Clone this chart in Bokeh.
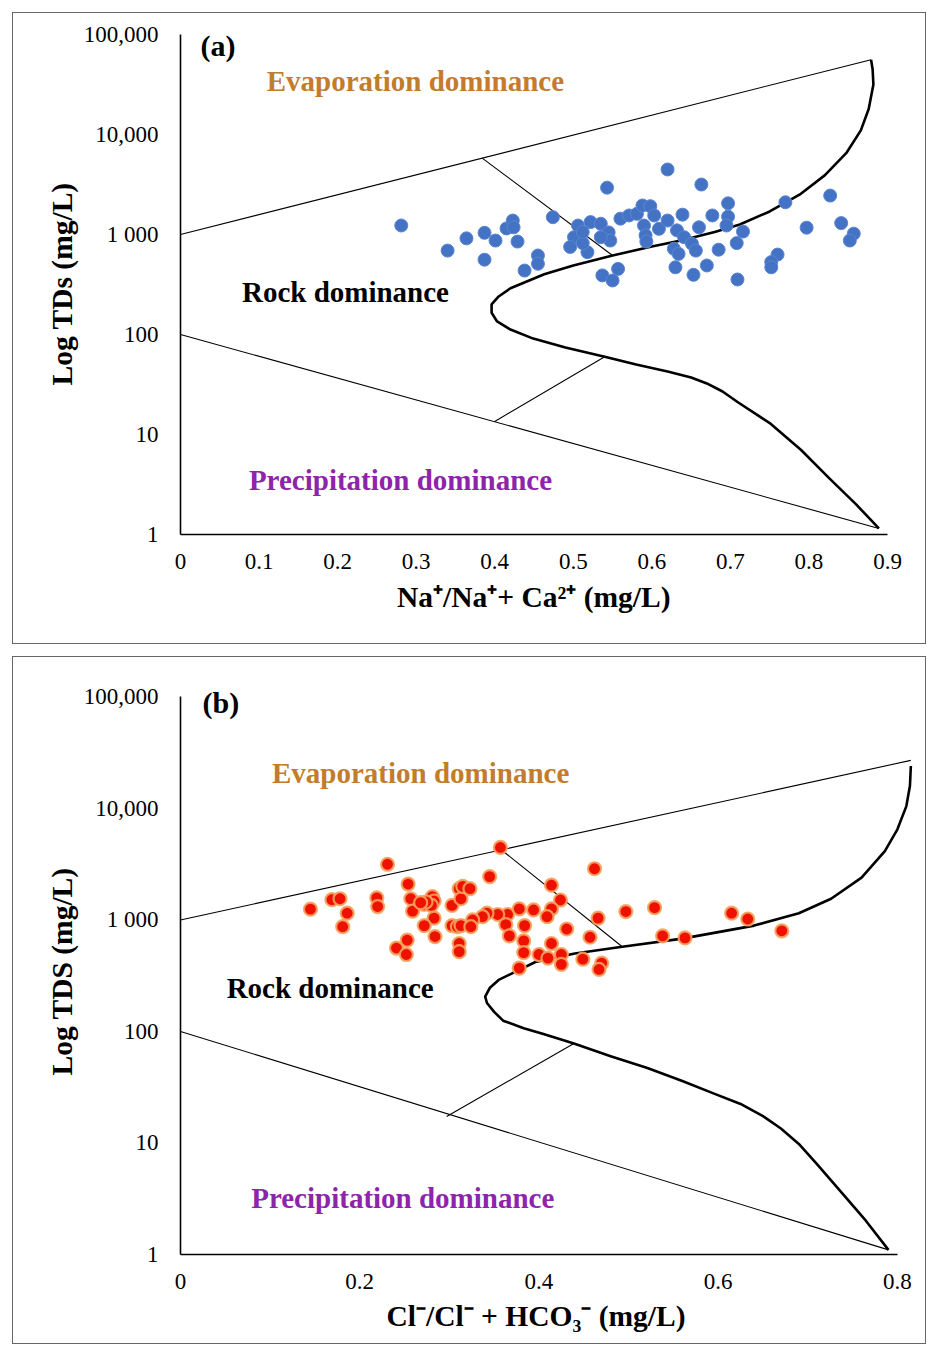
from bokeh.plotting import figure
from bokeh.models import FixedTicker, CustomJSTickFormatter, Label, Range1d, Spacer, Title
from bokeh.layouts import column, row
from bokeh.embed import file_html
from bokeh.resources import INLINE

SERIF = "Liberation Serif"

# ---------------- panel (a): Na+/(Na+ + Ca2+) against TDS ----------------
na_ratio = [0.281, 0.340, 0.364, 0.387, 0.401, 0.387, 0.415, 0.423, 0.424, 0.429,
            0.438, 0.455, 0.455, 0.474, 0.543, 0.620, 0.663, 0.506, 0.522, 0.535,
            0.545, 0.547, 0.501, 0.496, 0.518, 0.535, 0.537, 0.550, 0.557, 0.560,
            0.571, 0.581, 0.588, 0.598, 0.603, 0.590, 0.592, 0.593, 0.609, 0.620,
            0.639, 0.660, 0.632, 0.641, 0.651, 0.628, 0.634, 0.656, 0.630, 0.653,
            0.670, 0.697, 0.677, 0.697, 0.695, 0.716, 0.708, 0.685, 0.709, 0.770,
            0.827, 0.797, 0.841, 0.857, 0.852, 0.760, 0.752, 0.752, 0.512, 0.512]
tds_a = [1230, 690, 915, 1040, 870, 560, 1150, 1380, 1180, 850,
         436, 617, 510, 1490, 2940, 4470, 3160, 1230, 1330, 1280,
         1050, 870, 940, 750, 665, 940, 390, 347, 453, 1440,
         1550, 1610, 1950, 1920, 1550, 1230, 980, 850, 1140, 1380,
         1580, 1180, 1100, 940, 810, 720, 640, 690, 470, 395,
         490, 2050, 1550, 1510, 1230, 1070, 820, 705, 355, 2100,
         2450, 1170, 1300, 1020, 870, 630, 530, 470, 820, 1060]

# ---------------- panel (b): Cl-/(Cl- + HCO3-) against TDS ----------------
cl_ratio = [0.231, 0.145, 0.169, 0.178, 0.186, 0.181, 0.219, 0.220, 0.254, 0.257,
            0.259, 0.272, 0.281, 0.283, 0.280, 0.283, 0.272, 0.284, 0.303, 0.311,
            0.313, 0.303, 0.309, 0.311, 0.311, 0.241, 0.253, 0.252, 0.357, 0.345,
            0.315, 0.323, 0.462, 0.414, 0.424, 0.414, 0.409, 0.378, 0.394, 0.365,
            0.354, 0.342, 0.337, 0.326, 0.313, 0.324, 0.363, 0.384, 0.367, 0.383,
            0.383, 0.378, 0.400, 0.410, 0.414, 0.425, 0.425, 0.431, 0.449, 0.457,
            0.466, 0.470, 0.467, 0.497, 0.529, 0.538, 0.563, 0.615, 0.633, 0.671,
            0.274, 0.268]
tds_b = [3160, 1250, 1520, 1550, 1150, 870, 1580, 1320, 2100, 1550,
         1200, 1380, 1620, 1480, 1350, 1040, 890, 710, 1350, 1910,
         1550, 890, 870, 615, 520, 560, 660, 490, 4470, 2450,
         2000, 1910, 2880, 2050, 1510, 1260, 1070, 1260, 1230, 1120,
         1120, 1150, 1070, 1000, 890, 870, 910, 890, 720, 650,
         510, 370, 490, 455, 615, 490, 400, 830, 445, 700,
         1040, 410, 360, 1190, 1290, 720, 690, 1150, 1020, 800,
         1450, 1430]

# ---------------- Gibbs boundary lines ----------------
a_curve_x = [0.889, 0.860, 0.825, 0.790, 0.750, 0.710, 0.690, 0.670, 0.650, 0.620,
             0.580, 0.540, 0.490, 0.449, 0.420, 0.403, 0.396, 0.396, 0.405, 0.420,
             0.463, 0.500, 0.550, 0.600, 0.637, 0.680, 0.712, 0.750, 0.788, 0.820,
             0.848, 0.866, 0.876, 0.882, 0.881, 0.879]
a_curve_y = [1.15, 2.0, 3.7, 7.0, 13, 20.9, 26.9, 32.4, 37.2, 42.7,
             50.1, 60, 74, 91, 112, 135, 165, 200, 240, 290,
             400, 490, 617, 760, 870, 1060, 1260, 1700, 2500, 3900,
             6600, 11000, 18000, 31600, 45000, 56000]
a_upper_x, a_upper_y = [0, 0.879], [1000, 56000]
a_lower_x, a_lower_y = [0, 0.889], [100, 1.15]
a_tie_top_x, a_tie_top_y = [0.384, 0.550], [5800, 617]
a_tie_bot_x, a_tie_bot_y = [0.400, 0.540], [13.5, 60]

b_curve_x = [0.790, 0.765, 0.739, 0.710, 0.690, 0.670, 0.650, 0.625, 0.594, 0.560,
             0.521, 0.480, 0.439, 0.405, 0.383, 0.360, 0.350, 0.342, 0.340, 0.345,
             0.355, 0.396, 0.440, 0.493, 0.560, 0.640, 0.690, 0.726, 0.760, 0.786,
             0.800, 0.810, 0.814, 0.815]
b_curve_y = [1.1, 2.0, 3.5, 6.5, 9.8, 13.5, 17.4, 22.4, 28, 36,
             47, 60, 78, 95, 107, 125, 150, 180, 205, 245,
             290, 420, 500, 575, 680, 890, 1150, 1550, 2400, 4150,
             6500, 10500, 16000, 24000]
b_upper_x, b_upper_y = [0, 0.815], [1000, 27000]
b_lower_x, b_lower_y = [0, 0.790], [100, 1.1]
b_tie_top_x, b_tie_top_y = [0.358, 0.493], [4260, 575]
b_tie_bot_x, b_tie_bot_y = [0.297, 0.439], [17.3, 78]

# ---------------- tick labels ----------------
y_ticks = [1, 10, 100, 1000, 10000, 100000]
y_tick_labels = ["1", "10", "100", "1 000", "10,000", "100,000"]
a_x_ticks = [0, 0.1, 0.2, 0.3, 0.4, 0.5, 0.6, 0.7, 0.8, 0.9]
a_x_tick_labels = ["0", "0.1", "0.2", "0.3", "0.4", "0.5", "0.6", "0.7", "0.8", "0.9"]
b_x_ticks = [0, 0.2, 0.4, 0.6, 0.8]
b_x_tick_labels = ["0", "0.2", "0.4", "0.6", "0.8"]

EVAP = "#c27c2c"
PRECIP = "#8e24aa"
TITLE_SIZE = "29.5px"


def tick_formatter(vals, labels):
    return CustomJSTickFormatter(
        args=dict(vals=vals, labels=labels),
        code="const i = vals.findIndex(v => Math.abs(v - tick) < 1e-6 * Math.max(1, Math.abs(v)));"
             "return i >= 0 ? labels[i] : '';")


def axis_title(text, align, offset, standoff):
    return Title(text=text, align=align, offset=offset, standoff=standoff,
                 text_font=SERIF, text_font_size=TITLE_SIZE, text_font_style="bold",
                 text_color="black")


def panel(width, height, x_end, y_end, borders, x_ticks, x_labels, x_bounds,
          x_title, x_offset, x_standoff, y_title, y_offset):
    left, right, top, bottom = borders
    p = figure(width=width, height=height, x_range=Range1d(0, x_end),
               y_range=Range1d(1, y_end), y_axis_type="log",
               output_backend="svg", toolbar_location=None,
               min_border_left=left, min_border_right=right,
               min_border_top=top, min_border_bottom=bottom)
    p.xgrid.visible = False
    p.ygrid.visible = False
    p.outline_line_color = None
    p.background_fill_color = "white"
    p.border_fill_color = "white"
    p.styles = {"border": "1px solid #666666"}

    xa, ya = p.xaxis[0], p.yaxis[0]
    xa.ticker = FixedTicker(ticks=x_ticks)
    xa.formatter = tick_formatter(x_ticks, x_labels)
    xa.bounds = x_bounds
    ya.ticker = FixedTicker(ticks=y_ticks, minor_ticks=[])
    ya.formatter = tick_formatter(y_ticks, y_tick_labels)
    ya.bounds = (1, 100000)
    for ax in (xa, ya):
        ax.major_tick_line_color = None
        ax.minor_tick_line_color = None
        ax.major_tick_out = 0
        ax.major_tick_in = 0
        ax.axis_line_color = "black"
        ax.axis_line_width = 1.6
        ax.major_label_text_font = SERIF
        ax.major_label_text_font_size = "23px"
        ax.major_label_text_color = "black"
    xa.major_label_standoff = 19
    ya.major_label_standoff = 22

    # axis titles, anchored so they sit centred under / beside the drawn axis span
    p.add_layout(axis_title(x_title, "right", x_offset, x_standoff), "below")
    p.add_layout(axis_title(y_title, "left", y_offset, 5), "left")
    return p


def add_text(p, x, y, text, color, size="29px", align="center"):
    p.add_layout(Label(x=x, y=y, text=text, text_font=SERIF, text_font_size=size,
                       text_font_style="bold", text_color=color,
                       text_align=align, text_baseline="middle"))


# ---- (a) ----
pa = panel(914, 632, 0.9445, 10 ** 5.15, (167, 5, 6, 111), a_x_ticks, a_x_tick_labels, (0, 0.9),
           "Na\u207a/Na\u207a+ Ca\u00b2\u207a (mg/L)", 252, 14, "Log TDs (mg/L)", 149)
pa.line(a_upper_x, a_upper_y, line_color="black", line_width=1.1)
pa.line(a_lower_x, a_lower_y, line_color="black", line_width=1.1)
pa.line(a_tie_top_x, a_tie_top_y, line_color="black", line_width=1.1)
pa.line(a_tie_bot_x, a_tie_bot_y, line_color="black", line_width=1.1)
pa.line(a_curve_x, a_curve_y, line_color="black", line_width=2.6, line_join="round")
pa.scatter(na_ratio, tds_a, size=13, fill_color="#4472c4", line_color="#5b86d2", line_width=1)
add_text(pa, 0.0255, 10 ** 4.89, "(a)", "black", size="30px", align="left")
add_text(pa, 0.299, 10 ** 4.54, "Evaporation dominance", EVAP)
add_text(pa, 0.210, 10 ** 2.43, "Rock dominance", "black")
add_text(pa, 0.280, 10 ** 0.55, "Precipitation dominance", PRECIP)

# ---- (b) ----
pb = panel(914, 688, 0.828, 10 ** 5.3, (167, 5, 6, 91), b_x_ticks, b_x_tick_labels, (0, 0.8),
           "Cl\u207b/Cl\u207b + HCO\u2083\u207b (mg/L)", 237, 13, "Log TDS (mg/L)", 179)
pb.line(b_upper_x, b_upper_y, line_color="black", line_width=1.1)
pb.line(b_lower_x, b_lower_y, line_color="black", line_width=1.1)
pb.line(b_tie_top_x, b_tie_top_y, line_color="black", line_width=1.1)
pb.line(b_tie_bot_x, b_tie_bot_y, line_color="black", line_width=1.1)
pb.line(b_curve_x, b_curve_y, line_color="black", line_width=2.6, line_join="round")
pb.scatter(cl_ratio, tds_b, size=13, fill_color="#ee1100", line_color="#f5a25e",
           line_width=2.2, line_alpha=0.9)
add_text(pb, 0.0246, 10 ** 4.95, "(b)", "black", size="30px", align="left")
add_text(pb, 0.268, 10 ** 4.32, "Evaporation dominance", EVAP)
add_text(pb, 0.167, 10 ** 2.39, "Rock dominance", "black")
add_text(pb, 0.248, 10 ** 0.51, "Precipitation dominance", PRECIP)

layout = row(Spacer(width=12),
             column(Spacer(height=12), pa, Spacer(height=12), pb))

open("out.html", "w").write(file_html(layout, INLINE))
